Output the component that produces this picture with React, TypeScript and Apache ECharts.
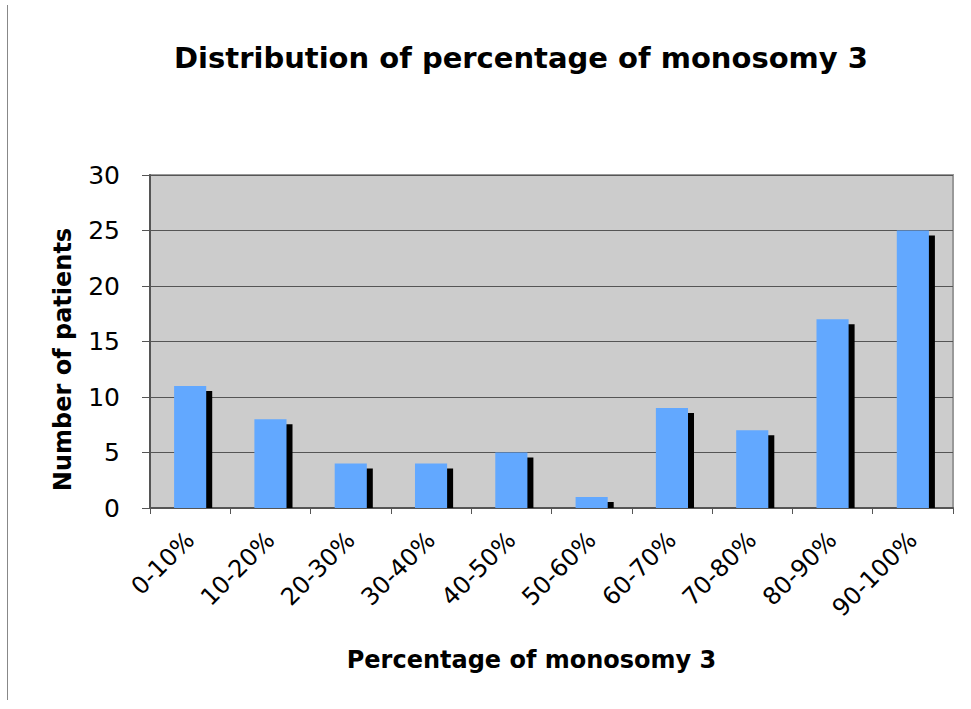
import React, { useEffect, useRef } from "react";
import * as echarts from "echarts";

const categories = ["0-10%", "10-20%", "20-30%", "30-40%", "40-50%", "50-60%", "60-70%", "70-80%", "80-90%", "90-100%"];
const patients = [11, 8, 4, 4, 5, 1, 9, 7, 17, 25];
const yTicks = { min: 0, max: 30, interval: 5 };

const FONT = "DejaVu Sans, Verdana, sans-serif";

export default function App() {
  const ref = useRef<HTMLDivElement>(null);
  useEffect(() => {
    if (!ref.current) return;
    const chart = echarts.init(ref.current, undefined, { renderer: "svg" });
    chart.setOption({
      animation: false,
      backgroundColor: "#ffffff",
      title: {
        text: "Distribution of percentage of monosomy 3",
        left: 516,
        textAlign: "center",
        top: 38,
        textStyle: { fontFamily: FONT, fontSize: 29, fontWeight: "bold", color: "#000" },
      },
      graphic: [
        { type: "line", shape: { x1: 7.5, y1: 5, x2: 7.5, y2: 700 }, style: { stroke: "#888", lineWidth: 1 } },
      ],
      grid: {
        left: 150,
        right: 18,
        top: 175,
        bottom: 201,
        show: true,
        backgroundColor: "#cccccc",
        borderColor: "#999999",
        borderWidth: 2,
      },
      xAxis: {
        type: "category",
        data: categories,
        name: "Percentage of monosomy 3",
        nameLocation: "middle",
        nameGap: 140,
        nameTextStyle: { fontFamily: FONT, fontSize: 24, fontWeight: "bold", color: "#000", padding: [0, 40, 0, 0] },
        axisLine: { lineStyle: { color: "#555", width: 2 } },
        axisTick: { show: true, length: 6, lineStyle: { color: "#555" } },
        axisLabel: { rotate: 45, fontFamily: FONT, fontSize: 24, color: "#000", margin: 28 },
      },
      yAxis: {
        type: "value",
        min: yTicks.min,
        max: yTicks.max,
        interval: yTicks.interval,
        name: "Number of patients",
        nameLocation: "middle",
        nameGap: 75,
        nameTextStyle: { fontFamily: FONT, fontSize: 24, fontWeight: "bold", color: "#000", padding: [0, 36, 0, 0] },
        axisLine: { show: true, lineStyle: { color: "#555", width: 2 } },
        axisTick: { show: true, length: 8, lineStyle: { color: "#555" } },
        axisLabel: { fontFamily: FONT, fontSize: 25, color: "#000", margin: 30 },
        splitLine: { show: true, lineStyle: { color: "#555", width: 1 } },
      },
      series: [
        {
          type: "custom",
          data: patients.map((v, i) => [i, v]),
          encode: { x: 0, y: 1 },
          renderItem: (params: any, api: any) => {
            const idx = api.value(0);
            const val = api.value(1);
            const top = api.coord([idx, val]);
            const base = api.coord([idx, 0]);
            const band = api.size([1, 0])[0];
            const w = band * 0.4;
            const x = top[0] - w / 2;
            const h = base[1] - top[1];
            return {
              type: "group",
              children: [
                {
                  type: "rect",
                  shape: { x: x + 6, y: top[1] + 5, width: w, height: Math.max(h - 5, 0) },
                  style: { fill: "#000000" },
                },
                {
                  type: "rect",
                  shape: { x, y: top[1], width: w, height: h },
                  style: { fill: "#62a8ff" },
                },
              ],
            };
          },
        },
      ],
    });
    return () => chart.dispose();
  }, []);
  return <div ref={ref} style={{ width: 971, height: 709, position: "absolute", left: 0, top: 0 }} />;
}
